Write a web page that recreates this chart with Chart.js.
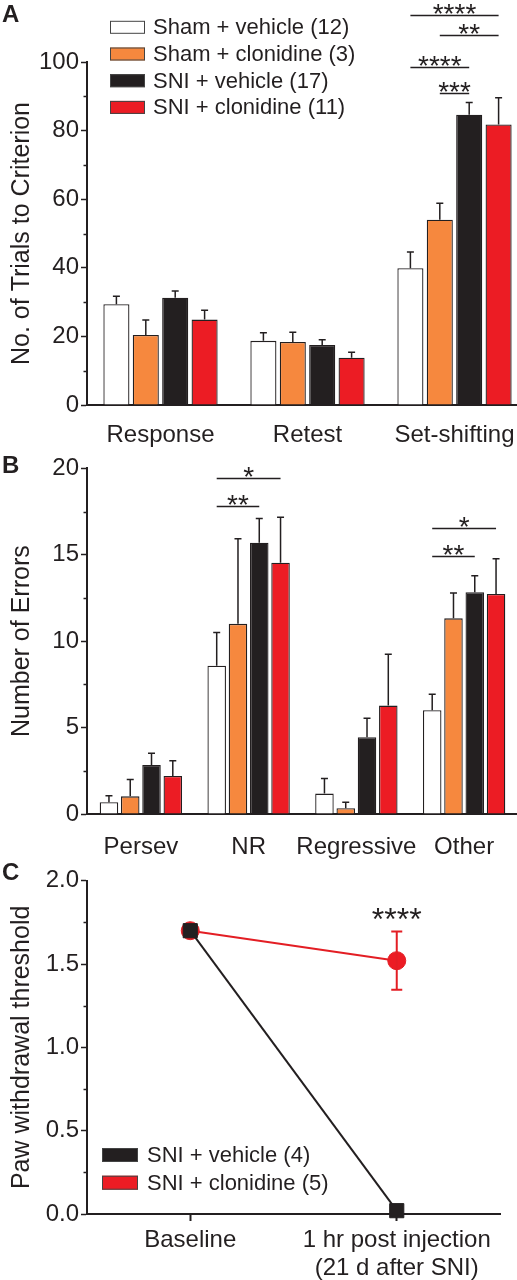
<!DOCTYPE html>
<html>
<head>
<meta charset="utf-8">
<title>Clonidine figure</title>
<script src="https://cdn.jsdelivr.net/npm/chart.js@4.4.1/dist/chart.umd.min.js"></script>
<style>
  html, body { margin: 0; padding: 0; background: #fff; overflow: hidden; }
  #page { position: relative; width: 517px; height: 1280px; overflow: hidden; }
  .panel { position: absolute; left: 0; }
</style>
</head>
<body>
<div id="page">
  <div class="panel" style="top:0; width:530px; height:450px;"><canvas id="chartA"></canvas></div>
  <div class="panel" style="top:450px; width:518px; height:410px;"><canvas id="chartB"></canvas></div>
  <div class="panel" style="top:860px; width:517px; height:420px;"><canvas id="chartC"></canvas></div>
</div>
<script>
// ===== DATA =====
const groupLabels = ['Sham + vehicle (12)', 'Sham + clonidine (3)', 'SNI + vehicle (17)', 'SNI + clonidine (11)'];
const groupColors = ['#ffffff', '#f6883e', '#231f20', '#ec1c24'];

// panel A - trials to criterion
const trialCategories = ['Response', 'Retest', 'Set-shifting'];
const trialsShamVeh  = [29.4, 18.7, 39.9];
const trialsShamClon = [20.4, 18.4, 54.0];
const trialsSniVeh   = [31.3, 17.5, 84.6];
const trialsSniClon  = [24.9, 13.8, 81.8];
const trialsErrShamVeh  = [2.3, 2.4, 4.7];
const trialsErrShamClon = [4.4, 2.8, 4.8];
const trialsErrSniVeh   = [1.9, 1.5, 3.6];
const trialsErrSniClon  = [2.7, 1.6, 7.8];
// significance brackets: category, from group, to group, level (data units)
const trialsSig = [
  { cat: 2, from: 0, to: 3, level: 113.8, text: '****' },
  { cat: 2, from: 1, to: 3, level: 108.0, text: '**' },
  { cat: 2, from: 0, to: 2, level: 98.6, text: '****' },
  { cat: 2, from: 1, to: 2, level: 90.9, text: '***' }
];

// panel B - number of errors
const errorCategories = ['Persev', 'NR', 'Regressive', 'Other'];
const errorsShamVeh  = [0.68, 8.58, 1.18, 6.00];
const errorsShamClon = [1.02, 11.0, 0.33, 11.32];
const errorsSniVeh   = [2.84, 15.7, 4.44, 12.83];
const errorsSniClon  = [2.20, 14.54, 6.27, 12.73];
const errorsErrShamVeh  = [0.38, 1.92, 0.88, 0.93];
const errorsErrShamClon = [0.98, 4.93, 0.35, 1.47];
const errorsErrSniVeh   = [0.67, 1.39, 1.10, 0.96];
const errorsErrSniClon  = [0.88, 2.63, 2.97, 2.03];
const errorsSig = [
  { cat: 1, from: 0, to: 3, level: 19.46, text: '*' },
  { cat: 1, from: 0, to: 2, level: 17.84, text: '**' },
  { cat: 3, from: 0, to: 3, level: 16.53, text: '*' },
  { cat: 3, from: 0, to: 2, level: 14.91, text: '**' }
];

// panel C - paw withdrawal threshold
const pawCategories = ['Baseline', ['1 hr post injection', '(21 d after SNI)']];
const pawLabels = ['SNI + vehicle (4)', 'SNI + clonidine (5)'];
const pawSniVeh  = [1.70, 0.02];
const pawSniClon = [1.70, 1.52];
const pawErrSniClon = [0, 0.175];
const pawSig = { index: 1, level: 1.76, text: '****' };

// ===== STYLE / HELPERS =====
const ink = '#231f20';
const lineRed = '#e31e24';
const fontFamily = '"Liberation Sans", Arial, Helvetica, sans-serif';
Chart.defaults.font.family = fontFamily;
Chart.defaults.color = ink;

function barSet(i, values, errors) {
  return {
    label: groupLabels[i],
    data: values,
    errors: errors,
    backgroundColor: groupColors[i],
    borderColor: ink,
    borderWidth: 1.3,
    borderSkipped: 'start'
  };
}

function yAxis(max, step, title, fmt) {
  return {
    min: 0, max: max,
    grid: { drawOnChartArea: false, drawTicks: true, tickLength: 6, tickColor: ink, tickWidth: 1.5 },
    border: { display: true, color: ink, width: 2 },
    ticks: { stepSize: step, color: ink, font: { size: 24 }, padding: 2, callback: fmt || (v => v) },
    title: { display: true, text: title, color: ink, font: { size: 25 }, padding: { top: 7, bottom: 0 } },
    afterFit(scale) { scale.width = 87; }
  };
}

function barOptions(o) {
  return {
    responsive: true,
    maintainAspectRatio: false,
    animation: false,
    events: [],
    layout: { padding: { top: o.padTop, right: o.padRight, left: 0, bottom: 0 } },
    datasets: { bar: { categoryPercentage: o.catPct, barPercentage: o.barPct } },
    plugins: { legend: { display: false }, tooltip: { enabled: false } },
    scales: {
      x: {
        grid: { display: false },
        border: { display: true, color: ink, width: 2 },
        ticks: { color: ink, font: { size: 24 }, padding: o.labelPad, maxRotation: 0, minRotation: 0, autoSkip: false },
        afterFit(scale) { scale.height = o.xHeight; }
      },
      y: yAxis(o.yMax, o.yStep, o.title)
    }
  };
}

// short ticks halfway between the labelled ones
const minorTicks = {
  id: 'minorTicks',
  afterDraw(chart) {
    const s = chart.scales.y, ctx = chart.ctx;
    ctx.save();
    ctx.strokeStyle = ink;
    ctx.lineWidth = 1.5;
    for (let i = 0; i < s.ticks.length - 1; i++) {
      const py = Math.round(s.getPixelForValue((s.ticks[i].value + s.ticks[i + 1].value) / 2)) + 0.5;
      ctx.beginPath();
      ctx.moveTo(s.right - 3.5, py);
      ctx.lineTo(s.right, py);
      ctx.stroke();
    }
    ctx.restore();
  }
};

const errorBars = {
  id: 'errorBars',
  afterDatasetsDraw(chart) {
    const ctx = chart.ctx, s = chart.scales.y;
    chart.data.datasets.forEach((ds, i) => {
      if (!ds.errors) return;
      const meta = chart.getDatasetMeta(i);
      ctx.save();
      ctx.strokeStyle = ds.errorColor || ink;
      ctx.lineWidth = ds.errorWidth || 1.5;
      meta.data.forEach((el, j) => {
        const e = ds.errors[j];
        if (!e) return;
        const v = ds.data[j];
        const cap = ds.errorCap || 3.5;
        const top = s.getPixelForValue(v + e);
        const bottom = ds.errorBoth ? s.getPixelForValue(v - e) : el.y;
        ctx.beginPath();
        ctx.moveTo(el.x, bottom);
        ctx.lineTo(el.x, top);
        ctx.moveTo(el.x - cap, top);
        ctx.lineTo(el.x + cap, top);
        if (ds.errorBoth) {
          ctx.moveTo(el.x - cap, bottom);
          ctx.lineTo(el.x + cap, bottom);
        }
        ctx.stroke();
      });
      ctx.restore();
    });
  }
};

function drawLetter(chart, letter, baseY) {
  const ctx = chart.ctx;
  ctx.save();
  ctx.font = 'bold 24px ' + fontFamily;
  ctx.fillStyle = ink;
  ctx.textBaseline = 'alphabetic';
  ctx.fillText(letter, 2, baseY);
  ctx.restore();
}

// asterisks sit high in the em box, so the baseline goes a bit below the line
function drawStars(ctx, text, x, lineY, size) {
  ctx.font = size + 'px ' + fontFamily;
  ctx.textAlign = 'center';
  ctx.textBaseline = 'alphabetic';
  ctx.fillText(text, x, lineY + size * 0.43 - 4.5);
}

function drawSig(chart, marks, size) {
  const ctx = chart.ctx, s = chart.scales.y;
  ctx.save();
  ctx.strokeStyle = ink;
  ctx.fillStyle = ink;
  ctx.lineWidth = 1.5;
  marks.forEach(m => {
    const x1 = chart.getDatasetMeta(m.from).data[m.cat].x;
    const x2 = chart.getDatasetMeta(m.to).data[m.cat].x;
    const py = Math.round(s.getPixelForValue(m.level)) + 0.5;
    ctx.beginPath();
    ctx.moveTo(x1, py);
    ctx.lineTo(x2, py);
    ctx.stroke();
    drawStars(ctx, m.text, (x1 + x2) / 2, py, size);
  });
  ctx.restore();
}

function drawBoxLegend(chart, items, o) {
  const ctx = chart.ctx;
  ctx.save();
  ctx.font = o.size + 'px ' + fontFamily;
  ctx.textBaseline = 'middle';
  ctx.textAlign = 'left';
  items.forEach((it, i) => {
    const cy = o.y + i * o.gap;
    ctx.fillStyle = it.color;
    ctx.fillRect(o.x, cy - o.h / 2, o.w, o.h);
    ctx.strokeStyle = '#444';
    ctx.lineWidth = 1;
    ctx.strokeRect(o.x + 0.5, cy - o.h / 2 + 0.5, o.w - 1, o.h - 1);
    ctx.fillStyle = ink;
    ctx.fillText(it.label, o.textX, cy + 1);
  });
  ctx.restore();
}

// ===== PANEL A =====
new Chart(document.getElementById('chartA'), {
  type: 'bar',
  data: {
    labels: trialCategories,
    datasets: [
      barSet(0, trialsShamVeh, trialsErrShamVeh),
      barSet(1, trialsShamClon, trialsErrShamClon),
      barSet(2, trialsSniVeh, trialsErrSniVeh),
      barSet(3, trialsSniClon, trialsErrSniClon)
    ]
  },
  options: barOptions({ padTop: 62, padRight: 2, xHeight: 45, labelPad: 8, catPct: 0.8, barPct: 0.887,
                        yMax: 100, yStep: 20, title: 'No. of Trials to Criterion' }),
  plugins: [minorTicks, errorBars, {
    id: 'overlayA',
    afterDraw(chart) {
      drawLetter(chart, 'A', 22);
      drawBoxLegend(chart, chart.data.datasets.map(d => ({ label: d.label, color: d.backgroundColor })),
                    { x: 110, y: 27.3, gap: 26.7, w: 35, h: 13, textX: 153, size: 22 });
      drawSig(chart, trialsSig, 28);
    }
  }]
});

// ===== PANEL B =====
new Chart(document.getElementById('chartB'), {
  type: 'bar',
  data: {
    labels: errorCategories,
    datasets: [
      barSet(0, errorsShamVeh, errorsErrShamVeh),
      barSet(1, errorsShamClon, errorsErrShamClon),
      barSet(2, errorsSniVeh, errorsErrSniVeh),
      barSet(3, errorsSniClon, errorsErrSniClon)
    ]
  },
  options: barOptions({ padTop: 18.3, padRight: 0, xHeight: 46, labelPad: 11, catPct: 0.79, barPct: 0.87,
                        yMax: 20, yStep: 5, title: 'Number of Errors' }),
  plugins: [minorTicks, errorBars, {
    id: 'overlayB',
    afterDraw(chart) {
      drawLetter(chart, 'B', 23);
      drawSig(chart, errorsSig, 28);
    }
  }]
});

// ===== PANEL C =====
new Chart(document.getElementById('chartC'), {
  type: 'line',
  data: {
    labels: pawCategories,
    datasets: [
      {
        label: pawLabels[0], data: pawSniVeh, clip: false,
        borderColor: ink, backgroundColor: ink, borderWidth: 2, tension: 0,
        pointStyle: 'rect', pointRadius: 10, pointBackgroundColor: ink, pointBorderColor: ink, pointBorderWidth: 1
      },
      {
        label: pawLabels[1], data: pawSniClon, clip: false,
        borderColor: lineRed, backgroundColor: '#ec1c24', borderWidth: 2, tension: 0,
        pointStyle: 'circle', pointRadius: 9, pointBackgroundColor: '#ec1c24', pointBorderColor: lineRed, pointBorderWidth: 1,
        errors: pawErrSniClon, errorBoth: true, errorColor: lineRed, errorWidth: 2, errorCap: 5.5
      }
    ]
  },
  options: {
    responsive: true,
    maintainAspectRatio: false,
    animation: false,
    events: [],
    layout: { padding: { top: 20.7, right: 17, left: 0, bottom: 0 } },
    plugins: { legend: { display: false }, tooltip: { enabled: false } },
    scales: {
      x: {
        offset: true,
        grid: { offset: false, drawOnChartArea: false, drawTicks: true, tickLength: 7, tickColor: ink, tickWidth: 2 },
        border: { display: true, color: ink, width: 2 },
        ticks: { color: ink, font: { size: 24, lineHeight: 1.17 }, padding: 5, maxRotation: 0, minRotation: 0, autoSkip: false },
        afterFit(scale) { scale.height = 66; }
      },
      y: yAxis(2, 0.5, 'Paw withdrawal threshold', v => v.toFixed(1))
    }
  },
  plugins: [minorTicks, errorBars, {
    id: 'overlayC',
    afterDraw(chart) {
      const ctx = chart.ctx;
      drawLetter(chart, 'C', 20);
      drawBoxLegend(chart, chart.data.datasets.map(d => ({ label: d.label, color: d.backgroundColor })),
                    { x: 102, y: 295, gap: 27.7, w: 36, h: 14, textX: 147, size: 22 });
      const pt = chart.getDatasetMeta(1).data[pawSig.index];
      ctx.save();
      ctx.fillStyle = ink;
      drawStars(ctx, pawSig.text, pt.x, chart.scales.y.getPixelForValue(pawSig.level), 32);
      ctx.restore();
    }
  }]
});
</script>
</body>
</html>
